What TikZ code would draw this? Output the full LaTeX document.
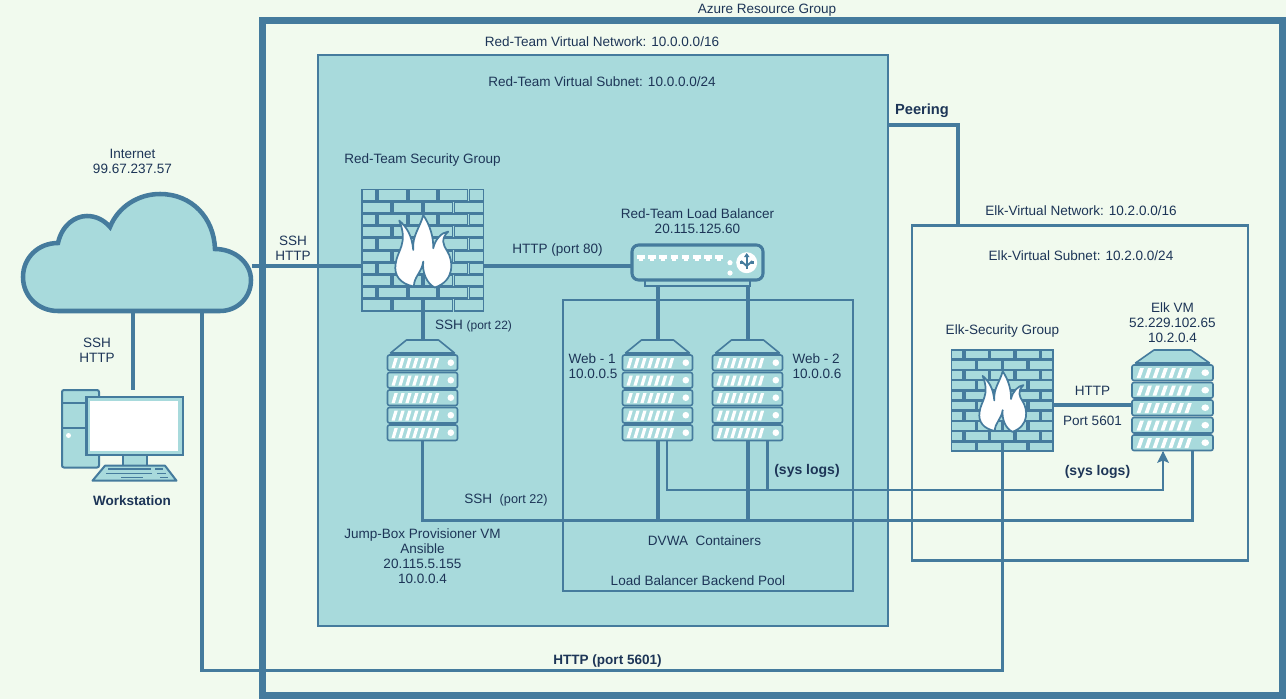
\documentclass[tikz,border=0pt]{standalone}
\usepackage{fontspec}
\setmainfont{Liberation Sans}
\usetikzlibrary{arrows.meta,calc}
\definecolor{bgc}{HTML}{F1FAEE}
\definecolor{fillc}{HTML}{A8DADC}
\definecolor{linec}{HTML}{457B9D}
\definecolor{textc}{HTML}{1D3557}
\tikzset{
  lbl/.style={text=textc,font=\fontsize{10.15}{11.3}\selectfont,align=center,inner sep=0pt,yshift=-0.3pt},
  conn/.style={draw=linec,line width=3pt},
  thinconn/.style={draw=linec,line width=1.6pt},
  iconbox/.style 2 args={inner sep=0,outer sep=0,minimum width=#1*0.75pt,minimum height=#2*0.75pt},
}
% firewall: x y size fill
\newcommand{\fwicon}[4]{%
\begin{scope}[shift={(#1,#2)},x=#3/365*0.75pt,y=-#3/365*0.75pt]
  \foreach \r in {0,2,4,6,8}{
    \foreach \a/\b in {0/42,48/135,140/225,232/317,323/365}{
      \draw[draw=linec,fill=#4,line width=1.4pt] (\a,{\r*36.7+1.5}) rectangle (\b,{\r*36.7+35});
    }
    \foreach \a/\b in {0/87,93/180,185/272,278/365}{
      \draw[draw=linec,fill=#4,line width=1.4pt] (\a,{(\r+1)*36.7+1.5}) rectangle (\b,{(\r+1)*36.7+35});
    }
  }
  \draw[draw=linec,fill=white,line width=1.3pt,line join=round]
    (184,78) .. controls (205,110) and (215,145) .. (214,178)
    .. controls (220,150) and (240,130) .. (259,128)
    .. controls (235,150) and (245,170) .. (255,185)
    .. controls (275,215) and (280,275) .. (219,296)
    .. controls (195,285) and (180,250) .. (184,218)
    .. controls (180,250) and (155,265) .. (156,293)
    .. controls (115,285) and (95,260) .. (101,225)
    .. controls (105,185) and (140,165) .. (112,95)
    .. controls (135,115) and (150,140) .. (154,183)
    .. controls (150,140) and (175,115) .. (184,78) -- cycle;
\end{scope}}
% server: x y width
\newcommand{\srvicon}[3]{%
\begin{scope}[shift={(#1,#2)},x=#3/70*0.75pt,y=-0.75pt]
  \draw[draw=linec,fill=fillc,line width=1.2pt,line join=round] (19,0) -- (51,0) -- (67,13) -- (3,13) -- cycle;
  \foreach \r in {0,1,2,3,4}{
    \begin{scope}[yshift={-\r*17.5*0.75pt}]
      \draw[draw=linec,fill=fillc,line width=1.2pt,rounded corners=1.5pt] (0,15) rectangle (70,30.5);
      \foreach \k in {0,...,6}{
        \fill[white] ({4+\k*6.9},28) -- ({7.3+\k*6.9},28) -- ({10.3+\k*6.9},18) -- ({7+\k*6.9},18) -- cycle;
      }
      \fill[white] (63.3,22.7) circle [x radius=3.3,y radius=3.3];
    \end{scope}
  }
\end{scope}}
\begin{document}
\begin{tikzpicture}[x=0.75pt,y=-0.75pt]
\useasboundingbox (0,0) rectangle (1286,699);
\fill[bgc] (0,0) rectangle (1286,699);
% containers
\node[draw=linec,fill=fillc,line width=1.5pt,inner sep=0,outer sep=0,minimum width=570.5*0.75pt,minimum height=570*0.75pt] (subnet) at (602.75,340.5) {};
\node[draw=linec,line width=1.5pt,inner sep=0,outer sep=0,minimum width=290*0.75pt,minimum height=290.5*0.75pt] (pool) at (707.5,445.25) {};
\node[draw=linec,line width=2.2pt,inner sep=0,outer sep=0,minimum width=336*0.75pt,minimum height=335*0.75pt] (elknet) at (1080,393) {};
\node[draw=linec,line width=5.25pt,inner sep=0,outer sep=0,minimum width=1020*0.75pt,minimum height=675*0.75pt] (azure) at (772.5,358) {};
% invisible named icon boxes
\node[iconbox={230}{119}] (cloud) at (137,252.5) {};
\node[iconbox={121}{123}] (fwa) at (422.5,250.5) {};
\node[iconbox={102}{102}] (fwb) at (1002.5,400.5) {};
\node[iconbox={70}{101}] (jump) at (422.5,390.5) {};
\node[iconbox={70}{101}] (web1) at (657.5,390.5) {};
\node[iconbox={70}{101}] (web2) at (747.5,390.5) {};
\node[iconbox={81}{102}] (elk) at (1172.5,401) {};
\node[iconbox={132}{35}] (lb) at (697.5,262.5) {};
\node[iconbox={105}{6}] (tray) at (697.5,283) {};
\node[iconbox={121}{91}] (ws) at (122,435) {};
% connector waypoints
\coordinate (wstop) at (132.5,390);
\coordinate (bus) at (422.5,520.5);
\coordinate (httpleft) at (202,670.5);
\coordinate (httpright) at (1002.5,670.5);
\coordinate (logA) at (667,441);
\coordinate (logB) at (767.5,441);
\coordinate (logC) at (1163,490);
\coordinate (elkin) at (1192.5,451);
\coordinate (peer) at (958,125);
\coordinate (fwline) at (0,265.5);
\coordinate (elkline) at (0,405);
% connectors
\draw[conn] (cloud.east |- fwline) -- (fwa.west |- fwline);
\draw[conn] (cloud.south -| wstop) -- (wstop);
\draw[thinconn,line width=2.4pt] (cloud.south -| httpleft) -- (httpleft) -- (httpright) -- (fwb.south);
\draw[conn] (fwa.east |- fwline) -- (lb.west |- fwline);
\draw[conn] (fwa.south) -- (jump.north);
\draw[conn] (tray.south -| web1) -- (web1.north);
\draw[conn] (tray.south -| web2) -- (web2.north);
\draw[conn,line width=2.7pt] (jump.south) -- (bus) -- (bus -| elkin) -- (elkin);
\draw[conn] (web1.south) -- (web1.south |- bus);
\draw[conn] (web2.south) -- (web2.south |- bus);
\draw[thinconn] (logA) -- (logA |- logC) -- (logC) -- (logC |- elk.south);
\draw[thinconn] (logB) -- (logB |- logC);
\fill[linec] (1163,451) -- (1169,463) -- (1163,460.5) -- (1157,463) -- cycle;
\draw[conn] (fwb.east |- elkline) -- (elk.west |- elkline);
\draw[conn,line width=2.4pt] (subnet.east |- peer) -- (peer) -- (peer |- elknet.north);
% cloud
\draw[draw=linec,fill=fillc,line width=3.4pt,line join=miter]
  (58,243) .. controls (62,225) and (75,216) .. (87,216)
  .. controls (96,216) and (104,220) .. (110,227)
  .. controls (118,207) and (138,194) .. (160,194)
  .. controls (192,194) and (214,218) .. (215,249)
  .. controls (235,249) and (251,263) .. (251,280)
  .. controls (251,298) and (237,311) .. (220,311)
  -- (58,311)
  .. controls (38,311) and (23,296) .. (23,277)
  .. controls (23,258) and (38,243) .. (58,243) -- cycle;
% firewalls
\fwicon{362}{189}{121.5}{fillc}
\fwicon{951.5}{349.5}{101.5}{fillc}
% servers
\srvicon{387.5}{340}{70}
\srvicon{622.5}{340}{70}
\srvicon{712.5}{340}{70}
\srvicon{1132}{350}{81}
% load balancer
\draw[draw=linec,fill=fillc,line width=1.5pt] (644.5,280) rectangle (750,286);
\draw[draw=linec,fill=fillc,line width=2.3pt,rounded corners=5pt] (632,245) rectangle (763,280);
\foreach \k in {0,...,7}{
  \fill[white] ({637+\k*11.2},255) rectangle ({644.5+\k*11.2},258.5);
  \fill[white] ({638.8+\k*11.2},258) rectangle ({642.7+\k*11.2},260.5);
}
\fill[white] (730,262.7) circle [radius=2.6];
\fill[white] (730,273) circle [radius=2.6];
\fill[white] (746.7,262.7) circle [radius=10.5];
\draw[linec,line width=1.4pt] (746.7,269) -- (746.7,256);
\draw[linec,line width=1.4pt] (746.7,266) -- (741,261) (746.7,266) -- (752.4,261);
\fill[linec] (746.7,253) -- (749.5,257) -- (744,257) -- cycle;
\fill[linec] (739.5,261) rectangle (742.5,264);
\fill[linec] (751,261) rectangle (754,264);
% workstation
\draw[draw=linec,fill=fillc,line width=1.5pt,rounded corners=1.5pt] (62,390) rectangle (99,467.5);
\draw[linec,line width=1.5pt] (62,403) -- (86,403) (62,428) -- (86,428);
\fill[white] (68.5,435.5) circle [radius=2.5];
\draw[draw=linec,fill=fillc,line width=1.5pt] (122.5,455) rectangle (147,466);
\draw[draw=linec,fill=fillc,line width=1.5pt,line join=round] (92.5,480.7) -- (176.5,480.7) -- (165,465.7) -- (105,465.7) -- cycle;
\draw[linec,line width=1.3pt] (108,469) -- (151,469) (155,469) -- (163,469)
  (106,473.5) -- (152,473.5) (157,473.5) -- (166,473.5)
  (121,477.5) -- (143,477.5) (160,477.5) -- (168,477.5);
\draw[draw=linec,fill=fillc,line width=1.8pt] (86.5,397) rectangle (183,455);
\fill[white] (90,401) rectangle (178,451);
% labels
\node[lbl] (tazure) at (767,10) {Azure Resource Group};
\node[lbl] (tvnet) at (602,41) {Red-Team Virtual Network: 10.0.0.0/16};
\node[lbl] (tsub) at (602,81) {Red-Team Virtual Subnet: 10.0.0.0/24};
\node[lbl] (tpeer) at (922,110.5) {\fontsize{11}{12.5}\selectfont\bfseries Peering};
\node[lbl] (tinet) at (132.5,161) {Internet\\99.67.237.57};
\node[lbl] (tsg) at (422.5,160) {Red-Team Security Group};
\node[lbl] (tlb) at (697.5,220.5) {Red-Team Load Balancer\\20.115.125.60};
\node[lbl] (thttp) at (557.5,250) {HTTP (port 80)};
\node[lbl] (tsshA) at (293,248) {SSH\\HTTP};
\node[lbl] (tsshB) at (97,350) {SSH\\HTTP};
\node[lbl] (tws) at (132,500) {\bfseries Workstation};
\node[lbl] (tssh) at (473.5,325.5) {SSH {\fontsize{9}{12}\selectfont (port 22)}};
\node[lbl] (tssh2) at (506,500) {SSH\ \ {\fontsize{9.5}{12}\selectfont (port 22)}};
\node[lbl] (tjump) at (422.5,556) {Jump-Box Provisioner VM\\Ansible\\20.115.5.155\\10.0.0.4};
\node[lbl,align=left] (tw1) at (593,366) {Web - 1\\10.0.0.5};
\node[lbl,align=left] (tw2) at (817,366) {Web - 2\\10.0.0.6};
\node[lbl] (tsl1) at (807,471) {\fontsize{10.5}{12}\selectfont\bfseries (sys logs)};
\node[lbl] (tsl2) at (1097.5,471.5) {\fontsize{10.5}{12}\selectfont\bfseries (sys logs)};
\node[lbl] (tdvwa) at (704.5,540) {DVWA\ \ Containers};
\node[lbl] (tpool) at (698,580) {Load Balancer Backend Pool};
\node[lbl] (t5601) at (607.5,661) {\bfseries HTTP (port 5601)};
\node[lbl] (tenet) at (1081,210) {Elk-Virtual Network: 10.2.0.0/16};
\node[lbl] (tesub) at (1081,255) {Elk-Virtual Subnet: 10.2.0.0/24};
\node[lbl] (tesg) at (1002.5,330.5) {Elk-Security Group};
\node[lbl] (telk) at (1172.5,322.5) {Elk VM\\52.229.102.65\\10.2.0.4};
\node[lbl] (tehttp) at (1092.5,390) {HTTP};
\node[lbl] (teport) at (1092.5,420) {Port 5601};
\end{tikzpicture}
\end{document}
